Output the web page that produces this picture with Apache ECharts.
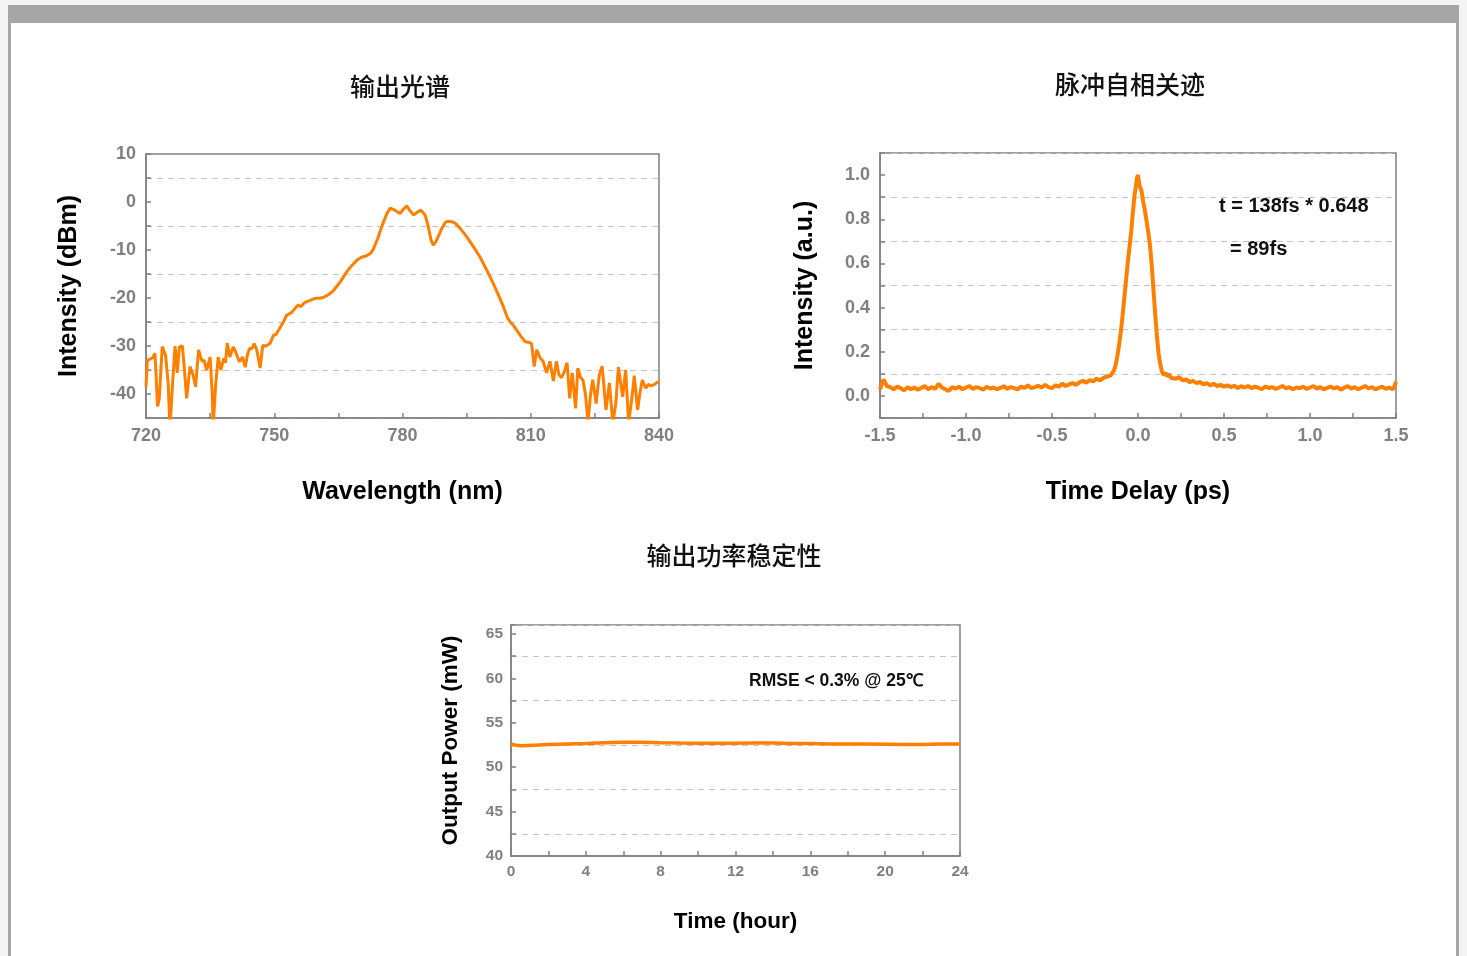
<!DOCTYPE html>
<html>
<head>
<meta charset="utf-8">
<script src="https://cdn.jsdelivr.net/npm/echarts@6.0.0/dist/echarts.min.js"></script>
<style>
html,body{margin:0;padding:0;background:#f4f4f4;}
#c{width:1467px;height:956px;}
</style>
</head>
<body>
<div id="c"></div>
<script>
// ---------- Data ----------
const titles = ['输出光谱', '脉冲自相关迹', '输出功率稳定性'];
const spectrumName = ['Wavelength (nm)', 'Intensity (dBm)'];
const acfName = ['Time Delay (ps)', 'Intensity (a.u.)'];
const powerName = ['Time (hour)', 'Output Power (mW)'];
const acfNotes = ['t = 138fs * 0.648', '= 89fs'];
const powerNote = 'RMSE < 0.3% @ 25℃';

// spectrum: [wavelength nm, intensity dBm]
const spectrum = [
[720,-38.5],[720.3,-33],[721.5,-32.5],[722.1,-31.5],[722.7,-42.6],[723.1,-41],[723.8,-30.1],[724.6,-32],[725.2,-38],[725.6,-47],[726.2,-38],[726.8,-30],[727.3,-35.6],[727.8,-30.2],[728.5,-30],[729,-35],[729.5,-40.9],[730.3,-34.3],[731,-36],[731.6,-38.5],[732.3,-30.8],[733.1,-33.2],[733.6,-33],[734.2,-35],[735,-32.3],[735.5,-40],[735.7,-47],[736.3,-38],[736.9,-32.3],[737.5,-35],[738.2,-32.6],[738.6,-33.5],[739,-29.4],[739.6,-32.3],[740.4,-30.2],[741.1,-31.5],[741.8,-33.3],[742.6,-32.3],[743.2,-34.4],[743.7,-32],[744.2,-30.5],[744.8,-30.5],[745.3,-29.5],[745.9,-30.8],[746.7,-34.6],[747.3,-29.9],[748,-30],[748.4,-30.2],[749,-29.5],[749.8,-27.8],[750.4,-27.6],[751,-26.7],[752,-25.2],[752.9,-23.6],[754.1,-23],[755,-22],[755.6,-21.5],[756.3,-21.8],[756.8,-21.2],[757.5,-20.8],[758.4,-20.5],[759.5,-20.1],[760.7,-20],[761.5,-19.9],[762.3,-19.5],[763,-19.1],[763.8,-18.5],[764.6,-17.6],[765.4,-16.7],[766.2,-15.6],[766.9,-14.6],[767.7,-13.7],[768.5,-12.9],[769.4,-12.1],[770.4,-11.5],[771.6,-11.2],[772.5,-10.7],[773.2,-9.8],[774.3,-7.4],[775,-5.5],[775.5,-4.3],[776.3,-2.5],[777.1,-1.3],[778,-1.6],[779.4,-2.4],[780.2,-1.5],[781,-0.8],[781.8,-1.9],[782.6,-2.7],[783.5,-2.1],[784.3,-1.7],[785.3,-2.7],[786,-5],[786.7,-8],[787.2,-9],[787.8,-8.3],[788.3,-7.3],[789.2,-5.5],[790.1,-4.2],[790.7,-4],[791.5,-4.1],[792.3,-4.4],[793.5,-5.5],[795,-7.2],[796.5,-9.2],[798.1,-11.4],[799.6,-14],[801.2,-16.9],[802.4,-19.3],[803.6,-21.8],[804.5,-24],[805.1,-24.9],[806,-25.8],[806.7,-26.7],[807.7,-28],[808.7,-29.1],[809.5,-29.2],[810.2,-29.5],[810.8,-34.3],[811.4,-30.8],[812.2,-32.5],[812.9,-33.2],[813.3,-33],[813.7,-35.6],[814.5,-33.2],[815.3,-37.3],[816,-33.2],[816.6,-36],[817.2,-36.6],[817.8,-35.5],[818.5,-33.5],[819.1,-40.9],[819.7,-35.6],[820.5,-43],[821,-34.6],[821.6,-36.5],[822.2,-37.1],[822.8,-40],[823.4,-46],[824,-40],[824.5,-37],[825.3,-42],[826,-36.2],[826.7,-34.2],[827.6,-43.3],[828.4,-37.7],[829.2,-46],[829.9,-42],[830.5,-34.4],[831.5,-40.6],[832.2,-35],[832.9,-46],[833.8,-39.8],[834.2,-36.2],[835,-43.3],[835.5,-40],[836.1,-37.1],[836.9,-38.8],[837.5,-38],[838.1,-38.3],[839,-38],[839.6,-37.5],[840,-37.8]
];

// autocorrelation: [delay ps, intensity a.u.]
const autocorr = [
[-1.50,0.030],[-1.48,0.075],[-1.46,0.045],[-1.44,0.040],[-1.42,0.030],[-1.40,0.042],[-1.38,0.035],[-1.36,0.025],[-1.34,0.040],[-1.32,0.030],
[-1.30,0.038],[-1.28,0.028],[-1.26,0.036],[-1.24,0.045],[-1.22,0.030],[-1.20,0.040],[-1.18,0.032],[-1.16,0.055],[-1.14,0.038],[-1.12,0.030],
[-1.10,0.022],[-1.08,0.040],[-1.06,0.033],[-1.04,0.042],[-1.02,0.030],[-1.00,0.038],[-0.98,0.045],[-0.96,0.032],[-0.94,0.040],[-0.92,0.035],
[-0.90,0.028],[-0.88,0.042],[-0.86,0.033],[-0.84,0.038],[-0.82,0.030],[-0.80,0.036],[-0.78,0.044],[-0.76,0.032],[-0.74,0.040],[-0.72,0.035],
[-0.70,0.030],[-0.68,0.042],[-0.66,0.036],[-0.64,0.048],[-0.62,0.035],[-0.60,0.040],[-0.58,0.046],[-0.56,0.038],[-0.54,0.050],[-0.52,0.040],
[-0.50,0.035],[-0.48,0.048],[-0.46,0.042],[-0.44,0.055],[-0.42,0.045],[-0.40,0.052],[-0.38,0.058],[-0.36,0.050],[-0.34,0.062],[-0.32,0.068],
[-0.30,0.060],[-0.28,0.072],[-0.26,0.066],[-0.24,0.078],[-0.22,0.070],[-0.20,0.082],[-0.19,0.076],[-0.18,0.088],[-0.17,0.080],[-0.16,0.092],
[-0.15,0.100],[-0.14,0.115],[-0.13,0.14],[-0.12,0.18],[-0.11,0.23],[-0.10,0.29],[-0.09,0.36],[-0.08,0.44],[-0.07,0.52],[-0.06,0.60],
[-0.05,0.67],[-0.04,0.74],[-0.03,0.83],[-0.02,0.91],[-0.01,0.96],[-0.005,0.99],[0.00,1.00],[0.005,0.97],[0.01,0.95],[0.02,0.93],
[0.03,0.88],[0.04,0.84],[0.05,0.79],[0.06,0.74],[0.07,0.68],[0.08,0.59],[0.09,0.48],[0.10,0.37],[0.11,0.27],[0.12,0.19],
[0.13,0.14],[0.14,0.11],[0.15,0.095],[0.16,0.105],[0.17,0.088],[0.18,0.100],[0.19,0.082],[0.20,0.090],[0.22,0.078],[0.24,0.085],
[0.26,0.070],[0.28,0.075],[0.30,0.062],[0.32,0.068],[0.34,0.058],[0.36,0.063],[0.38,0.052],[0.40,0.058],[0.42,0.048],[0.44,0.055],
[0.46,0.045],[0.48,0.050],[0.50,0.042],[0.52,0.048],[0.54,0.040],[0.56,0.046],[0.58,0.036],[0.60,0.044],[0.62,0.038],[0.64,0.045],
[0.66,0.035],[0.68,0.042],[0.70,0.037],[0.72,0.030],[0.74,0.043],[0.76,0.036],[0.78,0.040],[0.80,0.032],[0.82,0.038],[0.84,0.045],
[0.86,0.034],[0.88,0.040],[0.90,0.030],[0.92,0.038],[0.94,0.035],[0.96,0.042],[0.98,0.032],[1.00,0.038],[1.02,0.045],[1.04,0.033],
[1.06,0.040],[1.08,0.030],[1.10,0.036],[1.12,0.042],[1.14,0.034],[1.16,0.040],[1.18,0.028],[1.20,0.038],[1.22,0.044],[1.24,0.033],
[1.26,0.040],[1.28,0.030],[1.30,0.037],[1.32,0.045],[1.34,0.034],[1.36,0.040],[1.38,0.030],[1.40,0.036],[1.42,0.042],[1.44,0.032],
[1.46,0.038],[1.48,0.030],[1.49,0.040],[1.50,0.065]
];

// power stability
const powerHours = [0,0.2,0.5,1,1.5,2,3,4,5,6,7,8,9,10,11,12,13,14,15,16,17,18,19,20,21,22,23,24];
const powerMW    = [52.6,52.5,52.4,52.45,52.5,52.55,52.6,52.65,52.75,52.8,52.8,52.75,52.72,52.7,52.7,52.7,52.72,52.72,52.65,52.65,52.62,52.6,52.6,52.58,52.55,52.55,52.6,52.6];

// ---------- Styling helpers ----------
const ORANGE = '#ff8000';
const AX = '#808080';
const GRIDC = '#c4c4c4';
const LAT = 'Liberation Sans, Arial, sans-serif';
const CJK = 'Noto Sans CJK SC, sans-serif';

function mkAxis(o) {
  return Object.assign({
    type: 'value',
    scale: false,
    axisLine: { show: true, onZero: false, lineStyle: { color: AX, width: 1.5 } },
    axisTick: { show: true, inside: true, length: 5, lineStyle: { color: AX, width: 1.5 } },
    minorTick: { show: false },
    nameLocation: 'middle',
    nameTextStyle: { color: '#000', fontFamily: LAT, fontWeight: 'bold', fontSize: 25 },
    splitLine: { show: false }
  }, o);
}
const dashed = (colors) => ({ show: true, lineStyle: { color: colors, type: [6, 5], width: 1 } });
const lbl = (size, margin, fmt) => ({ color: AX, fontFamily: LAT, fontWeight: 'bold', fontSize: size, margin: margin, formatter: fmt });

const chart = echarts.init(document.getElementById('c'), null, { renderer: 'canvas' });

const option = {
  backgroundColor: '#f4f4f4',
  animation: false,
  grid: [
    { left: 146, top: 154, width: 513, height: 264, show: true, borderColor: AX, borderWidth: 1.5, backgroundColor: 'transparent' },
    { left: 880, top: 153, width: 516, height: 265, show: true, borderColor: AX, borderWidth: 1.5, backgroundColor: 'transparent' },
    { left: 511, top: 625, width: 449, height: 231, show: true, borderColor: AX, borderWidth: 1.5, backgroundColor: 'transparent' }
  ],
  xAxis: [
    mkAxis({ gridIndex: 0, min: 720, max: 840, interval: 15, name: spectrumName[0], nameGap: 62,
      axisLabel: lbl(18, 9, v => (Math.round(v) % 30 === 0 ? String(v) : '')) }),
    mkAxis({ gridIndex: 1, min: -1.5, max: 1.5, interval: 0.25, name: acfName[0], nameGap: 62,
      axisLabel: lbl(18, 9, v => (Math.abs(Math.round(v * 4)) % 2 === 0 ? v.toFixed(1) : '')) }),
    mkAxis({ gridIndex: 2, min: 0, max: 24, interval: 2, name: powerName[0], nameGap: 54,
      axisLabel: lbl(15.5, 8, v => (Math.round(v) % 4 === 0 ? String(v) : '')),
      nameTextStyle: { color: '#000', fontFamily: LAT, fontWeight: 'bold', fontSize: 22.5 } })
  ],
  yAxis: [
    mkAxis({ gridIndex: 0, min: -45, max: 10, interval: 5, name: spectrumName[1], nameGap: 64,
      splitLine: dashed([GRIDC, 'transparent']),
      axisLabel: lbl(18, 10, v => (Math.round(v) % 10 === 0 ? String(v) : '')) }),
    mkAxis({ gridIndex: 1, min: -0.1, max: 1.1, interval: 0.1, name: acfName[1], nameGap: 62,
      splitLine: dashed([GRIDC, 'transparent']),
      axisLabel: lbl(18, 10, v => { const k = Math.round(v * 10); return (k >= 0 && k <= 10 && k % 2 === 0) ? (k / 10).toFixed(1) : ''; }) }),
    mkAxis({ gridIndex: 2, min: 40, max: 66, interval: 2.5, name: powerName[1], nameGap: 49,
      splitLine: dashed(['transparent', GRIDC]),
      axisLabel: lbl(15.5, 8, v => (Math.abs(v % 5) < 1e-6 && v <= 65 ? String(v) : '')),
      nameTextStyle: { color: '#000', fontFamily: LAT, fontWeight: 'bold', fontSize: 22.5 } })
  ],
  series: [
    { type: 'line', xAxisIndex: 0, yAxisIndex: 0, data: spectrum, showSymbol: false, clip: true,
      lineStyle: { color: ORANGE, width: 3 }, z: 3 },
    { type: 'line', xAxisIndex: 1, yAxisIndex: 1, data: autocorr, showSymbol: false, clip: true,
      lineStyle: { color: ORANGE, width: 4 }, z: 3 },
    { type: 'line', xAxisIndex: 2, yAxisIndex: 2, data: powerHours.map((h, i) => [h, powerMW[i]]), showSymbol: false, clip: true,
      lineStyle: { color: ORANGE, width: 3.5 }, z: 3 }
  ],
  graphic: [
    { type: 'rect', z: -10, shape: { x: 8, y: 5, width: 1451, height: 960 }, style: { fill: '#ffffff' } },
    { type: 'rect', z: -9, shape: { x: 8, y: 5, width: 1451, height: 18 }, style: { fill: '#a6a6a6' } },
    { type: 'rect', z: -9, shape: { x: 8, y: 5, width: 3, height: 960 }, style: { fill: '#a6a6a6' } },
    { type: 'rect', z: -9, shape: { x: 1456, y: 5, width: 3, height: 960 }, style: { fill: '#a6a6a6' } },
    { type: 'text', x: 400, y: 86, style: { text: titles[0], font: '500 25px ' + CJK, fill: '#111', textAlign: 'center', textVerticalAlign: 'middle' } },
    { type: 'text', x: 1130, y: 84, style: { text: titles[1], font: '500 25px ' + CJK, fill: '#111', textAlign: 'center', textVerticalAlign: 'middle' } },
    { type: 'text', x: 734, y: 555, style: { text: titles[2], font: '500 25px ' + CJK, fill: '#111', textAlign: 'center', textVerticalAlign: 'middle' } },
    { type: 'text', x: 1219, y: 206, style: { text: acfNotes[0], font: 'bold 20px ' + LAT, fill: '#111', textAlign: 'left', textVerticalAlign: 'middle' } },
    { type: 'text', x: 1230, y: 249, style: { text: acfNotes[1], font: 'bold 20px ' + LAT, fill: '#111', textAlign: 'left', textVerticalAlign: 'middle' } },
    { type: 'text', x: 749, y: 681, style: { text: powerNote, font: 'bold 17.5px ' + LAT, fill: '#111', textAlign: 'left', textVerticalAlign: 'middle' } }
  ]
};
chart.setOption(option);
</script>
</body>
</html>
